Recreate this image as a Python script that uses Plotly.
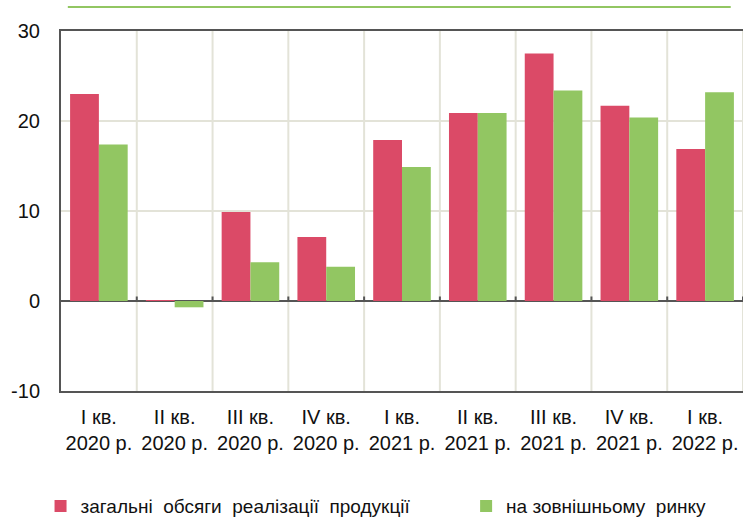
import plotly.graph_objects as go

categories = ["I кв.<br>2020 р.", "II кв.<br>2020 р.", "III кв.<br>2020 р.", "IV кв.<br>2020 р.",
              "I кв.<br>2021 р.", "II кв.<br>2021 р.", "III кв.<br>2021 р.", "IV кв.<br>2021 р.",
              "I кв.<br>2022 р."]
total_sales = [23.0, 0.1, 9.9, 7.1, 17.9, 20.9, 27.5, 21.7, 16.9]
external_market = [17.4, -0.7, 4.3, 3.8, 14.9, 20.9, 23.4, 20.4, 23.2]
series_names = ["загальні  обсяги  реалізації  продукції", "на зовнішньому  ринку"]
y_ticks = [-10, 0, 10, 20, 30]
y_tick_labels = ["-10", "0", "10", "20", "30"]

PINK = "#db4a67"
GREEN = "#92c662"
GRID = "#e3e3d8"
DARK = "#555555"
FONT = "Liberation Sans, Arial, sans-serif"

fig = go.Figure()
fig.add_trace(go.Bar(x=categories, y=total_sales, name=series_names[0], legend="legend",
                     marker=dict(color=PINK, line=dict(width=0))))
fig.add_trace(go.Bar(x=categories, y=external_market, name=series_names[1], legend="legend2",
                     marker=dict(color=GREEN, line=dict(width=0))))

shapes = []
n = len(categories)
for i in range(n):
    xb = i + 0.5
    shapes.append(dict(type="line", xref="x", yref="y", x0=xb, x1=xb, y0=y_ticks[0], y1=y_ticks[-1],
                       line=dict(color=GRID, width=2), layer="below"))
    shapes.append(dict(type="line", xref="x", yref="y", x0=xb, x1=xb, y0=0, y1=0.5,
                       line=dict(color=DARK, width=2), layer="above"))
# decorative green line at top
shapes.append(dict(type="line", xref="paper", yref="paper", x0=0.01, x1=0.982, y0=1.067, y1=1.067,
                   line=dict(color=GREEN, width=2)))

legend_common = dict(orientation="h", xanchor="left", y=-0.32, yanchor="middle",
                     font=dict(size=19, color="#111111"), itemwidth=30,
                     bgcolor="rgba(0,0,0,0)")

fig.update_layout(
    width=743, height=521,
    margin=dict(l=61, r=0, t=31, b=130, autoexpand=False),
    paper_bgcolor="white", plot_bgcolor="white",
    barmode="group", bargap=0.24, bargroupgap=0,
    font=dict(family=FONT, size=20, color="#111111"),
    showlegend=True,
    legend=dict(x=-0.03, **legend_common),
    legend2=dict(x=0.594, **legend_common),
    shapes=shapes,
    xaxis=dict(range=[-0.5, n - 0.5], showgrid=False, showline=True, mirror=True,
               linecolor=DARK, linewidth=2, ticks="", tickfont=dict(size=20),
               ticklabelstandoff=7, fixedrange=True),
    yaxis=dict(range=[y_ticks[0], y_ticks[-1]], tickvals=y_ticks, ticktext=y_tick_labels,
               showgrid=True, gridcolor=GRID, gridwidth=2, zeroline=True, zerolinecolor=DARK,
               zerolinewidth=2, showline=True, linecolor=DARK, linewidth=2, mirror=False,
               ticks="", tickfont=dict(size=20), ticklabelstandoff=15, fixedrange=True),
)

fig.write_html("out.html", config={"displayModeBar": False},
               post_script="document.body.style.margin='0';document.body.style.overflow='hidden';")
